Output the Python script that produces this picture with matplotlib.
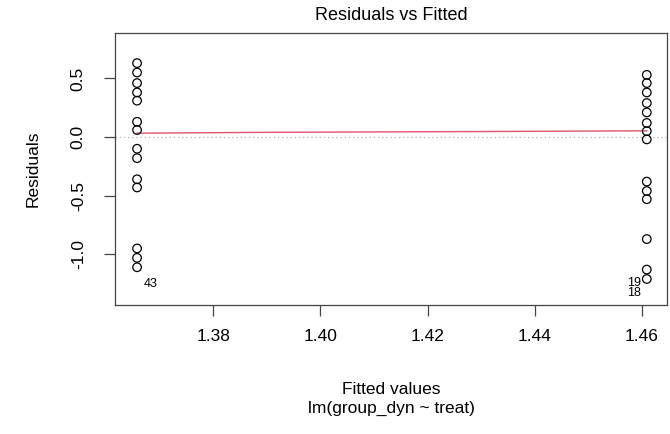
import matplotlib
matplotlib.use('Agg')
import matplotlib.pyplot as plt
import numpy as np

plt.rcParams['font.family'] = ['Liberation Sans', 'DejaVu Sans']

# fitted values for the two treatment groups
fitted_a = 1.3658
fitted_b = 1.4609

# residuals (duplicates overlap)
resid_a = [0.63, 0.55, 0.46, 0.38, 0.31, 0.13, 0.06, -0.10, -0.18,
           -0.36, -0.43, -0.95, -1.03, -1.11]
resid_b = [0.53, 0.46, 0.38, 0.29, 0.21, 0.12, 0.05, -0.02, -0.38,
           -0.46, -0.53, -0.87, -1.13, -1.21]

# lowess smooth (red line)
smooth_x = [1.3658, 1.39, 1.436, 1.4609]
smooth_y = [0.033, 0.040, 0.048, 0.053]

# labelled extreme points
label_ids = ['43', '19', '18']
label_x = [fitted_a, fitted_b, fitted_b]
label_y = [-1.11, -1.13, -1.21]

xticks = [1.38, 1.40, 1.42, 1.44, 1.46]
yticks = [-1.0, -0.5, 0.0, 0.5]

fig = plt.figure(figsize=(6.7, 4.34), dpi=100)
ax = fig.add_axes([0.1716, 0.2972, 0.8239, 0.6268])

x_all = [fitted_a] * len(resid_a) + [fitted_b] * len(resid_b)
y_all = resid_a + resid_b
ax.scatter(x_all, y_all, s=38, facecolors='none', edgecolors='black', linewidths=0.9, zorder=3)

ax.axhline(0, color='#BEBEBE', linestyle=(0, (1, 2)), linewidth=1)
ax.plot(smooth_x, smooth_y, color='#DF536B', linewidth=1)

for lab, lx, ly in zip(label_ids, label_x, label_y):
    if lx < np.mean([fitted_a, fitted_b]):
        ax.annotate(lab, (lx, ly), xytext=(5, -12), textcoords='offset points',
                    ha='left', va='center', fontsize=9)
    else:
        ax.annotate(lab, (lx, ly), xytext=(-4, -10), textcoords='offset points',
                    ha='right', va='center', fontsize=9)

ax.set_xlim(1.36168, 1.46467)
ax.set_ylim(-1.432, 0.887)
ax.set_xticks(xticks)
ax.set_xticklabels([f"{t:.2f}" for t in xticks])
ax.set_yticks(yticks)
ax.set_yticklabels([f"{t:.1f}" for t in yticks], rotation=90, va='center')
ax.tick_params(axis='both', direction='out', length=8, width=0.9, labelsize=12.5,
               color='#444444', pad=9)
ax.tick_params(axis='y', pad=13)

for sp in ax.spines.values():
    sp.set_linewidth(0.9)
    sp.set_color('#444444')

ax.set_title("Residuals vs Fitted", fontsize=13, pad=9)
ax.set_ylabel("Residuals", fontsize=12.5, labelpad=22)
fig.text(0.5836, 0.092, "Fitted values", ha='center', fontsize=12.5)
fig.text(0.5836, 0.048, "lm(group_dyn ~ treat)", ha='center', fontsize=12.5)

fig.savefig('out.png', dpi=100)
